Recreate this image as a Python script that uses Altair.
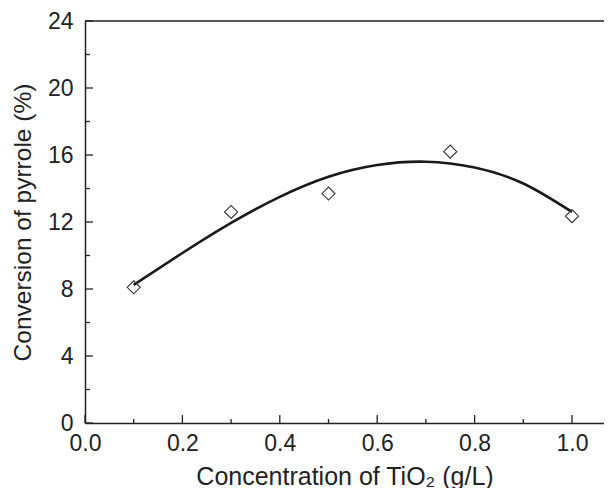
import altair as alt
import pandas as pd

# measured points
conc = [0.1, 0.3, 0.5, 0.75, 1.0]
conv = [8.1, 12.6, 13.7, 16.2, 12.35]

# fitted curve
curve_x = [0.1, 0.2, 0.3, 0.4, 0.5, 0.6, 0.7, 0.8, 0.9, 1.0]
curve_y = [8.25, 10.15, 11.95, 13.5, 14.7, 15.4, 15.6, 15.25, 14.3, 12.6]

y_major = [0, 4, 8, 12, 16, 20, 24]
y_minor = [2, 6, 10, 14, 18, 22]
x_major = [0.0, 0.2, 0.4, 0.6, 0.8, 1.0]
x_minor = [0.1, 0.3, 0.5, 0.7, 0.9]

W, H = 519, 402
FONT = "Liberation Sans"
INK = "#222222"

pts = pd.DataFrame({"x": conc, "y": conv})
crv = pd.DataFrame({"x": curve_x, "y": curve_y})

xs = alt.Scale(domain=[0, 1.0657], nice=False, zero=False)
ys = alt.Scale(domain=[0, 24], nice=False, zero=False)

XA = alt.Axis(
    values=x_major, format=".1f", ticks=False, grid=False, labelFlush=False,
    title="Concentration of TiO\u2082 (g/L)",
    labelFontSize=23, titleFontSize=25, labelPadding=9, titlePadding=9,
    domainColor=INK, domainWidth=1.5, labelColor=INK, titleColor=INK,
    labelFont=FONT, titleFont=FONT, titleFontWeight="normal")
YA = alt.Axis(
    values=y_major, ticks=False, grid=False, labelFlush=False,
    title="Conversion of pyrrole (%)",
    labelFontSize=23, titleFontSize=24.5, labelPadding=12, titlePadding=12,
    domainColor=INK, domainWidth=1.5, labelColor=INK, titleColor=INK,
    labelFont=FONT, titleFont=FONT, titleFontWeight="normal")

line = alt.Chart(crv).mark_line(color="#1a1a1a", strokeWidth=2.6, interpolate="natural").encode(
    x=alt.X("x:Q", scale=xs, axis=XA),
    y=alt.Y("y:Q", scale=ys, axis=YA),
)

points = alt.Chart(pts).mark_point(shape="diamond", size=170, filled=False,
                                   color="#333333", strokeWidth=1.1, opacity=1).encode(
    x=alt.X("x:Q", scale=xs, axis=XA),
    y=alt.Y("y:Q", scale=ys, axis=YA),
)

top = alt.Chart(pd.DataFrame({"y": [24]})).mark_rule(color=INK, strokeWidth=1.5).encode(
    y=alt.Y("y:Q", scale=ys, axis=YA), x=alt.value(0), x2=alt.value(W))

def yt(vals, L):
    return alt.Chart(pd.DataFrame({"y": vals})).mark_rule(color=INK, strokeWidth=1.3).encode(
        y=alt.Y("y:Q", scale=ys, axis=YA), x=alt.value(0), x2=alt.value(L))

def xt(vals, L):
    return alt.Chart(pd.DataFrame({"x": vals})).mark_rule(color=INK, strokeWidth=1.3).encode(
        x=alt.X("x:Q", scale=xs, axis=XA), y=alt.value(H), y2=alt.value(H - L))

chart = alt.layer(
    line, top, yt(y_major, 8), yt(y_minor, 5), xt(x_major, 8), xt(x_minor, 4), points
).properties(
    width=W, height=H,
    autosize=alt.AutoSizeParams(type="none"),
    padding={"left": 77, "top": 13, "right": 0, "bottom": 65},
    background="white",
).configure_view(stroke=None)

chart.save("out.html", embed_options={"renderer": "svg", "actions": False})
